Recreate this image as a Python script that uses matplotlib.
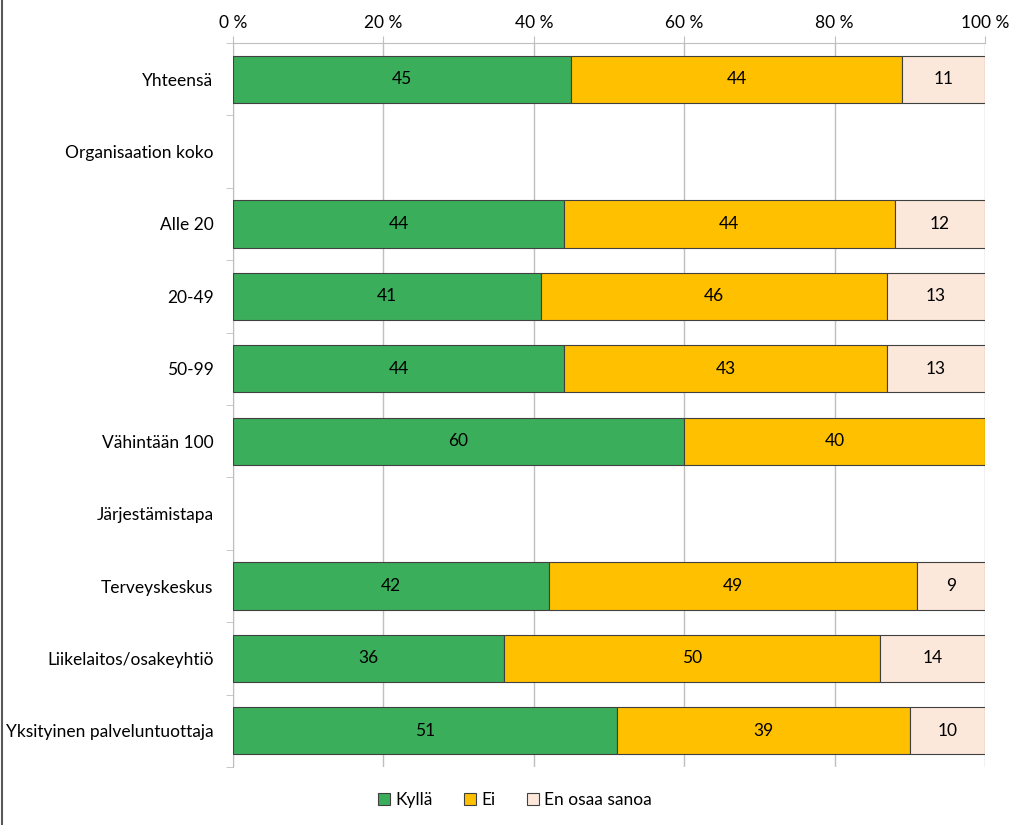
import matplotlib.pyplot as plt
import numpy as np
from matplotlib.ticker import FuncFormatter

plt.rcParams['font.family'] = ['Lato', 'DejaVu Sans']

categories = ["Yhteensä", "Organisaation koko", "Alle 20", "20-49", "50-99",
              "Vähintään 100", "Järjestämistapa", "Terveyskeskus",
              "Liikelaitos/osakeyhtiö", "Yksityinen palveluntuottaja"]
kylla = [45, 0, 44, 41, 44, 60, 0, 42, 36, 51]
ei = [44, 0, 44, 46, 43, 40, 0, 49, 50, 39]
en_osaa = [11, 0, 12, 13, 13, 0, 0, 9, 14, 10]

series = [("Kyllä", kylla, "#3BAE5B"),
          ("Ei", ei, "#FFC000"),
          ("En osaa sanoa", en_osaa, "#FCE8DA")]

FS = 12.5

fig = plt.figure(figsize=(10.24, 8.25), dpi=100)
ax = fig.add_axes([233 / 1024, 1 - 767 / 825, 752 / 1024, 724 / 825])

y = np.arange(len(categories))
left = np.zeros(len(categories))
for name, vals, col in series:
    vals = np.array(vals, dtype=float)
    # no outline for empty segments (header rows)
    lw = np.where(vals > 0, 0.8, 0.0)
    bars = ax.barh(y, vals, left=left, height=0.65, color=col,
                   edgecolor="#404040", linewidth=lw, label=name, zorder=3)
    for b, v in zip(bars, vals):
        if v > 0:
            ax.text(b.get_x() + b.get_width() / 2, b.get_y() + b.get_height() / 2,
                    f"{v:.0f}", ha="center", va="center", fontsize=FS,
                    color="black", zorder=4)
    left += vals

ax.set_xlim(0, 100)
ax.set_ylim(len(categories) - 0.5, -0.5)
ax.set_xticks(np.arange(0, 101, 20))
ax.xaxis.set_major_formatter(FuncFormatter(lambda v, p: f"{v:.0f} %"))
ax.xaxis.tick_top()
ax.tick_params(axis="x", length=5, color="#BFBFBF", labelsize=FS, pad=4)
ax.grid(axis="x", color="#BFBFBF", linewidth=1, zorder=0)

ax.set_yticks(y)
ax.set_yticklabels(categories, fontsize=FS)
ax.set_yticks(np.arange(-0.5, len(categories) + 0.5, 1), minor=True)
ax.tick_params(axis="y", which="major", length=0, pad=14)
ax.tick_params(axis="y", which="minor", length=5, color="#BFBFBF")

for s in ["right", "bottom"]:
    ax.spines[s].set_visible(False)
ax.spines["left"].set_color("#BFBFBF")
ax.spines["top"].set_color("#BFBFBF")

fig.legend(loc="center", bbox_to_anchor=(515 / 1024, 1 - 800 / 825), ncol=3,
           frameon=False, fontsize=FS, handlelength=0.7, handleheight=0.7,
           handletextpad=0.3, columnspacing=1.8)

fig.add_artist(plt.Line2D([0.002, 0.002], [0, 1], color="#595959", linewidth=1.5))

fig.savefig("out.png", dpi=100)
